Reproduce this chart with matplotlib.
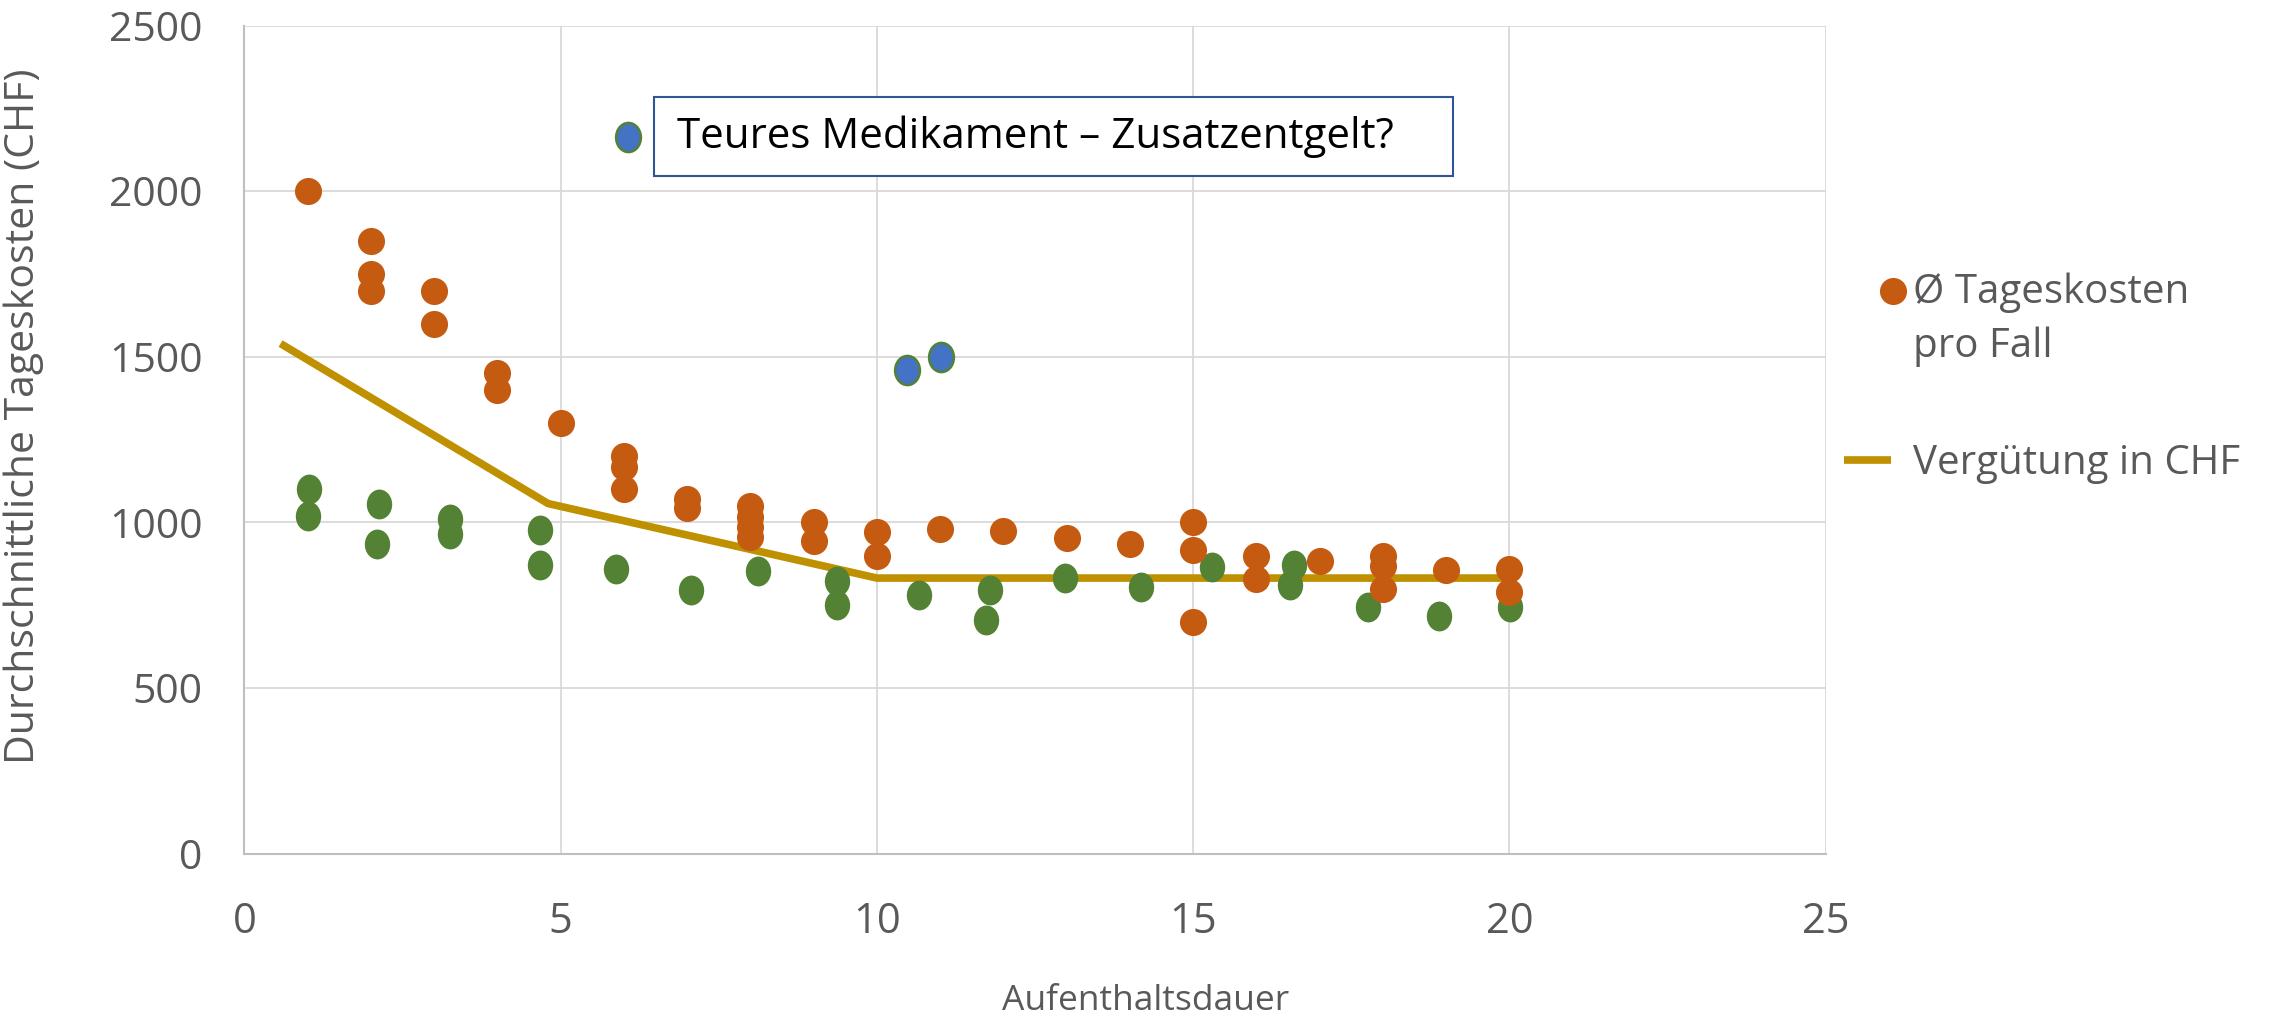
import numpy as np
import matplotlib
matplotlib.use("Agg")
import matplotlib.pyplot as plt
from matplotlib.path import Path
from matplotlib.transforms import Affine2D
from matplotlib.patches import Rectangle
from matplotlib.legend_handler import HandlerLine2D

# Ø Tageskosten pro Fall (orange)
cost_x = [1, 2, 2, 2, 3, 3, 4, 4, 5, 6, 6, 6, 7, 7, 8, 8, 8, 8, 9, 9, 10, 10,
          11, 12, 13, 14, 15, 15, 15, 16, 16, 17, 18, 18, 18, 19, 20, 20]
cost_y = [2000, 1850, 1750, 1700, 1700, 1600, 1450, 1400, 1300, 1200, 1166, 1100,
          1070, 1045, 1050, 1015, 985, 955, 1000, 945, 970, 900,
          981, 975, 953, 935, 1000, 916, 700, 900, 830, 883, 900, 868, 800, 856, 860, 790]

# weitere Fälle (grün)
other_x = [1.02, 1.0, 2.12, 2.1, 3.25, 3.25, 4.67, 4.67, 5.88, 7.06, 8.12, 9.36, 9.36,
           10.66, 11.78, 11.72, 12.98, 14.17, 15.3, 16.6, 16.53, 17.77, 18.89, 20.01]
other_y = [1100, 1020, 1055, 935, 1010, 965, 978, 872, 859, 797, 854, 824, 752,
           780, 796, 704, 832, 804, 864, 872, 812, 746, 716, 744]

# teure Medikamente (blau)
drug_x = [10.48, 11.02]
drug_y = [1459, 1500]
note_x = [6.06]
note_y = [2165]

# Vergütung in CHF
pay_x = [0.57, 4.8, 10, 20]
pay_y = [1540, 1057, 832, 832]

plt.rcParams['font.family'] = ['Open Sans', 'DejaVu Sans']


# legend marker sits on the first text line, at the right end of the handle
class FirstLineHandler(HandlerLine2D):
    def create_artists(self, legend, orig_handle, xdescent, ydescent, width,
                       height, fontsize, trans):
        arts = super().create_artists(legend, orig_handle, xdescent, ydescent,
                                      width, height, fontsize, trans)
        for a in arts:
            a.set_ydata([y + height * 1.05 for y in a.get_ydata()])
            a.set_xdata([x + width * 0.55 for x in a.get_xdata()])
        return arts


ell = Path.unit_circle().transformed(Affine2D().scale(0.85, 1.0))

fig = plt.figure(figsize=(22.85, 10.26), dpi=100)
ax = fig.add_axes([0.107, 0.168, 0.692, 0.807])

ax.plot(pay_x, pay_y, color='#BF9000', lw=5.5, solid_capstyle='butt', zorder=2,
        label='Vergütung in CHF')
ax.plot(other_x, other_y, ls='none', marker=ell, ms=21.5, color='#548235', mec='none', zorder=3)
cost_line, = ax.plot(cost_x, cost_y, ls='none', marker='o', ms=19.5, color='#C55A11',
                     mec='none', zorder=4, label='Ø Tageskosten\npro Fall')
ax.plot(drug_x, drug_y, ls='none', marker=ell, ms=21, color='#4472C4', mec='#548235', mew=1.8, zorder=4)
ax.plot(note_x, note_y, ls='none', marker=ell, ms=21, color='#4472C4', mec='#548235', mew=1.8, zorder=4)

ax.add_patch(Rectangle((0.259, 0.8187), 0.505, 0.095, transform=ax.transAxes,
                       fc='white', ec='#2F5597', lw=1.5, zorder=5))
ax.text(0.2737, 0.866, 'Teures Medikament – Zusatzentgelt?', transform=ax.transAxes,
        fontsize=30.3, color='black', va='center', ha='left', zorder=6)

ax.set_xlim(0, 25)
ax.set_ylim(0, 2500)
ax.set_xticks(range(0, 26, 5))
ax.set_yticks(range(0, 2501, 500))
ax.grid(True, color='#D9D9D9', lw=1.3)
ax.set_axisbelow(True)
for s in ['top', 'right']:
    ax.spines[s].set_visible(False)
for s in ['left', 'bottom']:
    ax.spines[s].set_color('#BFBFBF')
    ax.spines[s].set_linewidth(1.5)
ax.tick_params(length=0, colors='#595959')
ax.tick_params(axis='x', pad=34, labelsize=30)
ax.tick_params(axis='y', pad=30, labelsize=29.5)

ax.set_xlabel('Aufenthaltsdauer', fontsize=25.5, color='#595959')
ax.set_ylabel('Durchschnittliche Tageskosten (CHF)', fontsize=29.5, color='#595959')
ax.xaxis.set_label_coords(0.57, -0.158)
ax.yaxis.set_label_coords(-0.127, 0.528)

h, l = ax.get_legend_handles_labels()
leg = fig.legend(h[::-1], l[::-1], loc='upper left', bbox_to_anchor=(0.791, 0.77),
                 frameon=False, fontsize=29, labelcolor='#595959', handlelength=1.17,
                 handletextpad=0.55, labelspacing=1.9, numpoints=1,
                 handler_map={cost_line: FirstLineHandler()})
for t in leg.get_texts():
    t.set_linespacing(1.45)

fig.savefig('out.png', dpi=100)
